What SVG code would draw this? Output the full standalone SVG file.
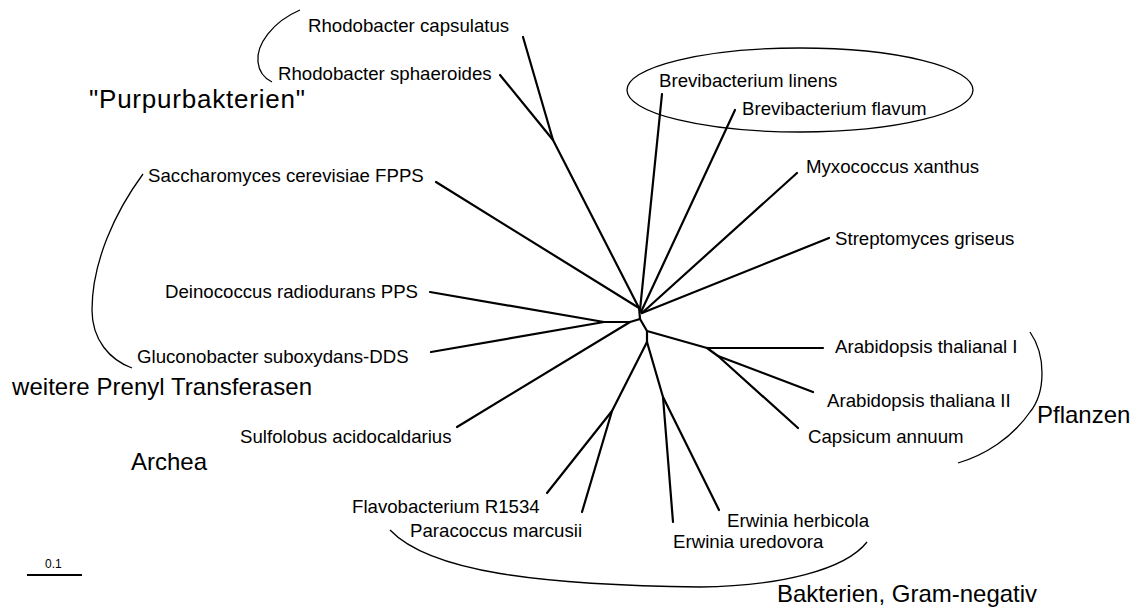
<svg xmlns="http://www.w3.org/2000/svg" width="1137" height="613" viewBox="0 0 1137 613">
<style>
.t{font-family:"Liberation Sans",Arial,sans-serif;font-size:18.67px;fill:#000}
.b{font-family:"Liberation Sans",Arial,sans-serif;font-size:24px;fill:#000}
.br{fill:none;stroke:#000;stroke-width:1.3}
.e{fill:none;stroke:#000;stroke-width:2.2;stroke-linecap:round;stroke-linejoin:round}
</style>
<rect width="1137" height="613" fill="#fff"/>
<g id="connectors">
<polyline class="e" points="523,37 553,140 639,308"/>
<line class="e" x1="500" y1="75" x2="553" y2="140"/>
<line class="e" x1="436" y1="182" x2="639" y2="308"/>
<line class="e" x1="662" y1="94" x2="640" y2="310"/>
<line class="e" x1="735" y1="110" x2="641" y2="312"/>
<line class="e" x1="797" y1="173" x2="642" y2="313"/>
<line class="e" x1="829" y1="238" x2="642" y2="313"/>
<polyline class="e" points="639,307 640,319"/>
<polyline class="e" points="640,319 630,322 604,322"/>
<line class="e" x1="430" y1="292" x2="604" y2="322"/>
<line class="e" x1="431" y1="352" x2="604" y2="322"/>
<line class="e" x1="457" y1="427" x2="630" y2="322"/>
<polyline class="e" points="640,319 647,331 647,342"/>
<polyline class="e" points="647,331 707,348 823,348"/>
<polyline class="e" points="707,348 718,356 813,392"/>
<line class="e" x1="718" y1="356" x2="798" y2="428"/>
<polyline class="e" points="647,342 612,411 547,493"/>
<line class="e" x1="612" y1="411" x2="582" y2="512"/>
<polyline class="e" points="647,342 663,397 673,522"/>
<line class="e" x1="663" y1="397" x2="719" y2="510"/>
</g>
<g id="purpur">
<path class="br" d="M300,10 C272,22 256,45 258,62 C259,72 264,78 272,82"/>
<text class="b" x="89" y="108" style="font-size:26px" textLength="216" lengthAdjust="spacing">"Purpurbakterien"</text>
</g>
<g id="n-rcaps"><text class="t" x="308" y="32">Rhodobacter capsulatus</text></g>
<g id="n-rsph"><text class="t" x="278" y="80">Rhodobacter sphaeroides</text></g>
<g id="brevi">
<ellipse class="br" cx="800" cy="90" rx="173" ry="42"/>
</g>
<g id="n-blin"><text class="t" x="659" y="87">Brevibacterium linens</text></g>
<g id="n-bfla"><text class="t" x="742" y="115">Brevibacterium flavum</text></g>
<g id="n-myxo"><text class="t" x="806" y="173">Myxococcus xanthus</text></g>
<g id="n-strep"><text class="t" x="835" y="245">Streptomyces griseus</text></g>
<g id="n-ara1"><text class="t" x="835" y="353">Arabidopsis thalianal I</text></g>
<g id="n-ara2"><text class="t" x="827" y="407">Arabidopsis thaliana II</text></g>
<g id="n-caps"><text class="t" x="808" y="443">Capsicum annuum</text></g>
<g id="pflanzen">
<path class="br" d="M1030,332 C1046,355 1046,392 1030,412 C1012,438 985,455 958,463"/>
<text class="b" x="1037" y="423">Pflanzen</text>
</g>
<g id="n-erh"><text class="t" x="727" y="527">Erwinia herbicola</text></g>
<g id="n-eru"><text class="t" x="673" y="548">Erwinia uredovora</text></g>
<g id="n-flavo"><text class="t" x="352" y="513">Flavobacterium R1534</text></g>
<g id="n-para"><text class="t" x="410" y="537">Paracoccus marcusii</text></g>
<g id="bakterien">
<path class="br" d="M390,530 C430,572 540,585 700,587 C780,586 845,570 867,542"/>
<text class="b" x="777" y="602">Bakterien, Gram-negativ</text>
</g>
<g id="n-sulfo"><text class="t" x="240" y="443">Sulfolobus acidocaldarius</text></g>
<g id="archea"><text class="b" x="131" y="470">Archea</text></g>
<g id="n-sacch"><text class="t" x="148" y="182">Saccharomyces cerevisiae FPPS</text></g>
<g id="n-deino"><text class="t" x="165" y="298">Deinococcus radiodurans PPS</text></g>
<g id="n-gluco"><text class="t" x="137" y="363">Gluconobacter suboxydans-DDS</text></g>
<g id="prenyl">
<path class="br" d="M143,174 C115,212 92,262 92,310 C92,340 110,360 132,368"/>
<text class="b" x="12" y="395" textLength="300" lengthAdjust="spacing">weitere Prenyl Transferasen</text>
</g>
<g id="scale">
<line x1="27" y1="575" x2="82" y2="575" stroke="#000" stroke-width="2"/>
<text x="45" y="568" font-family="Liberation Sans,Arial,sans-serif" font-size="12">0.1</text>
</g>
</svg>
